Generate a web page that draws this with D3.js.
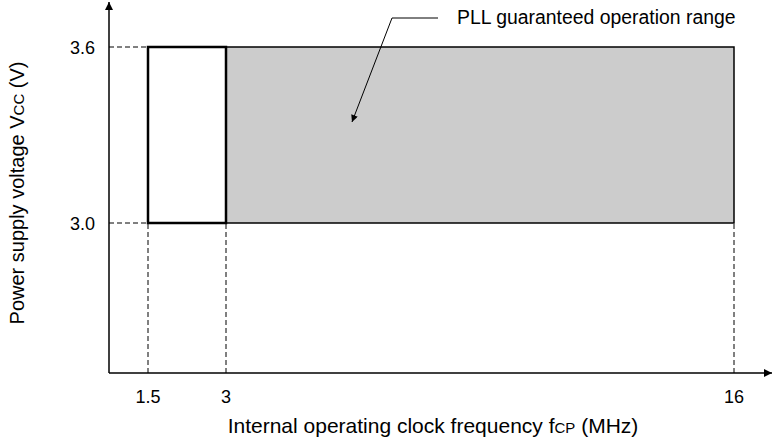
<!DOCTYPE html>
<html><head><meta charset="utf-8">
<script src="https://cdn.jsdelivr.net/npm/d3@7/dist/d3.min.js"></script>
<style>body{margin:0;background:#fff}svg{display:block}text{font-family:"Liberation Sans",Arial,sans-serif;fill:#000}</style>
</head><body>
<script>
// Data
const freqTicks = [1.5, 3, 16];
const voltTicks = [3.0, 3.6];
const freqLabels = ["1.5", "3", "16"];
const voltLabels = ["3.0", "3.6"];
const operatingRange = [1.5, 16];   // MHz, full operating region
const pllRange = [3, 16];           // MHz, PLL guaranteed
const voltRange = [3.0, 3.6];       // V

const W = 773, H = 440;
const svg = d3.select("body").append("svg").attr("width", W).attr("height", H);

// Non-linear (piecewise) frequency axis, as drawn in the reference
const x = d3.scaleLinear().domain([0, 1.5, 3, 16]).range([109, 148, 226, 734]);
const y = d3.scaleLinear().domain([3.0, 3.6]).range([223, 47]);
const x0 = 109, yBase = 373;

const defs = svg.append("defs");
defs.append("marker").attr("id","ah").attr("viewBox","0 0 10 10").attr("refX",10).attr("refY",5)
  .attr("markerWidth",12).attr("markerHeight",8).attr("markerUnits","userSpaceOnUse").attr("orient","auto")
  .append("path").attr("d","M0,0L10,5L0,10Z").attr("fill","#000");
defs.append("marker").attr("id","ah2").attr("viewBox","0 0 10 10").attr("refX",10).attr("refY",5)
  .attr("markerWidth",13).attr("markerHeight",7).attr("markerUnits","userSpaceOnUse").attr("orient","auto")
  .append("path").attr("d","M0,0L10,5L0,10Z").attr("fill","#000");

// Gray PLL region
svg.append("rect").attr("x", x(pllRange[0])).attr("y", y(voltRange[1]))
  .attr("width", x(pllRange[1]) - x(pllRange[0])).attr("height", y(voltRange[0]) - y(voltRange[1]))
  .attr("fill", "#cccccc").attr("stroke", "#000").attr("stroke-width", 1.5);
// White region 1.5 - 3
svg.append("rect").attr("x", x(operatingRange[0])).attr("y", y(voltRange[1]))
  .attr("width", x(pllRange[0]) - x(operatingRange[0])).attr("height", y(voltRange[0]) - y(voltRange[1]))
  .attr("fill", "#fff").attr("stroke", "#000").attr("stroke-width", 2.5);

// Dashed guides
const dash = "5,3";
voltTicks.forEach(v => {
  svg.append("line").attr("x1", x0).attr("x2", x(operatingRange[0])).attr("y1", y(v)).attr("y2", y(v))
    .attr("stroke", "#000").attr("stroke-width", 1).attr("stroke-dasharray", dash);
});
freqTicks.forEach(f => {
  svg.append("line").attr("x1", x(f)).attr("x2", x(f)).attr("y1", y(voltRange[0]) + 1).attr("y2", yBase)
    .attr("stroke", "#000").attr("stroke-width", 1).attr("stroke-dasharray", dash);
});

// Axes
svg.append("line").attr("x1", x0).attr("x2", x0).attr("y1", yBase).attr("y2", 2)
  .attr("stroke", "#000").attr("stroke-width", 1.5).attr("marker-end", "url(#ah)");
svg.append("line").attr("x1", x0).attr("x2", 772).attr("y1", yBase).attr("y2", yBase)
  .attr("stroke", "#000").attr("stroke-width", 1.5).attr("marker-end", "url(#ah)");

// Tick labels
svg.selectAll("text.yt").data(voltTicks).enter().append("text").attr("class","yt")
  .attr("x", 95).attr("y", d => y(d) + 7).attr("text-anchor","end").attr("font-size", 18)
  .text((d,i) => voltLabels[i]);
svg.selectAll("text.xt").data(freqTicks).enter().append("text").attr("class","xt")
  .attr("x", d => x(d)).attr("y", 403).attr("text-anchor","middle").attr("font-size", 18)
  .text((d,i) => freqLabels[i]);

// Axis titles
const xt = svg.append("text").attr("x", 433).attr("y", 433).attr("text-anchor","middle").attr("font-size", 21);
xt.append("tspan").text("Internal operating clock frequency f");
xt.append("tspan").attr("font-size", 15).text("CP");
xt.append("tspan").text(" (MHz)");

const yt = svg.append("text").attr("transform","translate(24,193) rotate(-90)").attr("text-anchor","middle").attr("font-size", 20);
yt.append("tspan").text("Power supply voltage V");
yt.append("tspan").attr("font-size", 15).text("CC");
yt.append("tspan").text(" (V)");

// Annotation
svg.append("text").attr("x", 457).attr("y", 24).attr("font-size", 19.4).text("PLL guaranteed operation range");
svg.append("path").attr("d", "M438,18L392,18L352,122").attr("fill","none").attr("stroke","#000").attr("stroke-width",1)
  .attr("marker-end","url(#ah2)");
</script>
</body></html>
